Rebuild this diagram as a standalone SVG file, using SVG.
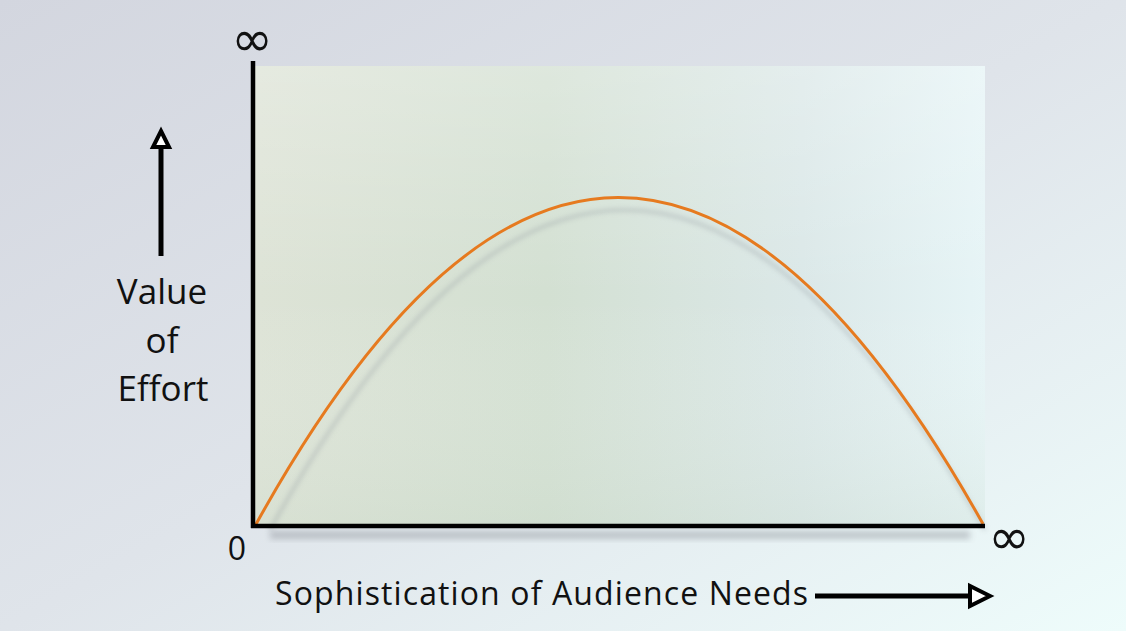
<svg xmlns="http://www.w3.org/2000/svg" width="1126" height="631" viewBox="0 0 1126 631">
<defs>
<linearGradient id="bg" x1="0" y1="0" x2="1" y2="1">
<stop offset="0" stop-color="#d3d6df"/>
<stop offset="0.5" stop-color="#dfe4ea"/>
<stop offset="1" stop-color="#eefcfb"/>
</linearGradient>
<linearGradient id="plot" x1="0" y1="0" x2="1" y2="0">
<stop offset="0" stop-color="#dde3d6"/>
<stop offset="0.4" stop-color="#d3e0d2"/>
<stop offset="0.75" stop-color="#dbe8e8"/>
<stop offset="1" stop-color="#e6f4f6"/>
</linearGradient>
<linearGradient id="plotv" x1="0" y1="0" x2="0" y2="1">
<stop offset="0" stop-color="#ffffff" stop-opacity="0.25"/>
<stop offset="0.5" stop-color="#ffffff" stop-opacity="0"/>
<stop offset="1" stop-color="#c8d8c8" stop-opacity="0.25"/>
</linearGradient>
<filter id="blur" x="-10%" y="-10%" width="120%" height="120%"><feGaussianBlur stdDeviation="2.5"/></filter>
<filter id="blur2" x="-10%" y="-50%" width="120%" height="200%"><feGaussianBlur stdDeviation="3"/></filter>
</defs>
<style>
.t{font-family:"Open Sans","Noto Sans",sans-serif;fill:#111}
.inf{font-family:"DejaVu Sans",sans-serif;fill:#111}
.ax{stroke:#000;stroke-width:4.5;fill:none}
.arr{fill:#fff;stroke:#000;stroke-width:4;stroke-linejoin:miter}
</style>
<rect width="1126" height="631" fill="url(#bg)"/>
<g id="plot-area">
<rect x="255" y="66" width="730" height="460" fill="url(#plot)"/>
<rect x="255" y="66" width="730" height="460" fill="url(#plotv)"/>
<rect x="270" y="531" width="700" height="8" fill="#8a8f96" opacity="0.45" filter="url(#blur2)"/>
</g>
<g id="curve">
<path d="M270,530 Q622,-110 985,530" fill="none" stroke="#9aa2a6" stroke-width="3" opacity="0.5" filter="url(#blur)"/>
<path d="M255,526 Q617,-130 983,524" fill="none" stroke="#e67a1f" stroke-width="3"/>
</g>
<g id="axes">
<line class="ax" x1="253" y1="61" x2="253" y2="528"/>
<line class="ax" x1="251" y1="526" x2="985" y2="526"/>
</g>
<g id="labels">
<text class="inf" x="252" y="56" font-size="50" text-anchor="middle">∞</text>
<text class="t" x="237" y="560" font-size="32" text-anchor="middle">0</text>
<text class="inf" x="1009" y="554" font-size="50" text-anchor="middle">∞</text>
<text class="t" x="162" y="304" font-size="35" text-anchor="middle">Value</text>
<text class="t" x="162" y="353" font-size="35" text-anchor="middle">of</text>
<text class="t" x="163" y="401" font-size="35" text-anchor="middle">Effort</text>
<text class="t" x="275" y="605" font-size="32" textLength="533" lengthAdjust="spacing">Sophistication of Audience Needs</text>
</g>
<g id="connectors">
<line x1="161" y1="256" x2="161" y2="148" stroke="#000" stroke-width="5"/>
<polygon class="arr" points="161,131 169,147 153,147"/>
<line x1="815" y1="596" x2="970" y2="596" stroke="#000" stroke-width="5"/>
<polygon class="arr" points="990,596 970,586 970,606"/>
</g>
</svg>
